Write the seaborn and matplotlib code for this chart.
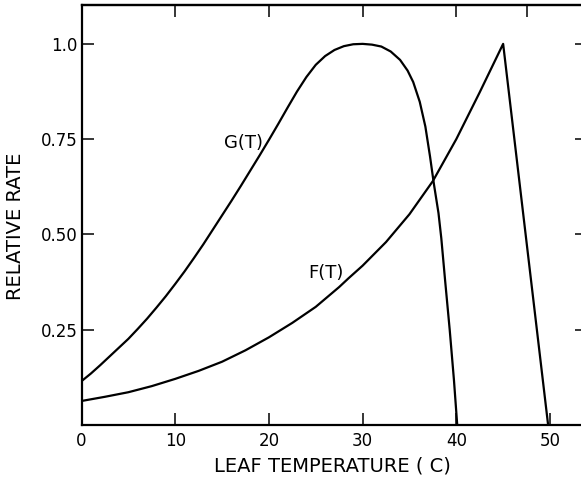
import pandas as pd
import matplotlib
matplotlib.use("Agg")
import matplotlib.pyplot as plt
import seaborn as sns

# =========================
# Data
# =========================

g_temp = [0, 1, 2, 3, 4, 5, 6, 7, 8, 9, 10, 11, 12, 13, 14, 15, 16, 17, 18,
          19, 20, 21, 22, 23, 24, 25, 26, 27, 28, 29, 30, 31, 32, 33, 34,
          34.8, 35.4, 36.1, 36.7, 37.2, 37.6, 38.1, 38.4, 38.8, 39.3, 39.75,
          40.1]
g_rate = [0.115, 0.135, 0.157, 0.18, 0.203, 0.226, 0.252, 0.279, 0.308, 0.338,
          0.37, 0.403, 0.438, 0.474, 0.512, 0.55, 0.588, 0.627, 0.667, 0.707,
          0.748, 0.79, 0.833, 0.875, 0.913, 0.945, 0.968, 0.984, 0.994, 0.999,
          1.0, 0.998, 0.993, 0.98, 0.958, 0.93, 0.9, 0.848, 0.783, 0.704,
          0.634, 0.556, 0.49, 0.381, 0.249, 0.118, 0.0]

f_temp = [0, 2.5, 5, 7.5, 10, 12.5, 15, 17.5, 20, 22.5, 25, 27.5, 28.5, 30,
          32.5, 35, 37.5, 40, 42.5, 45, 49.8]
f_rate = [0.063, 0.074, 0.086, 0.102, 0.121, 0.142, 0.166, 0.196, 0.23, 0.268,
          0.31, 0.362, 0.385, 0.418, 0.48, 0.553, 0.64, 0.75, 0.873, 1.0, 0.0]

x_ticks = [0, 10, 20, 30, 40, 50]
y_ticks = [0.25, 0.50, 0.75, 1.0]
y_labels = ["0.25", "0.50", "0.75", "1.0"]
top_ticks = [10, 20, 30, 40, 47.5]

g_df = pd.DataFrame({"temp": g_temp, "rate": g_rate})
f_df = pd.DataFrame({"temp": f_temp, "rate": f_rate})

# =========================
# Style
# =========================

sns.set_style("ticks")
plt.rcParams["font.family"] = ["DejaVu Sans"]
plt.rcParams["font.size"] = 12
plt.rcParams["text.color"] = "black"
plt.rcParams["axes.labelcolor"] = "black"

fig = plt.figure(figsize=(5.81, 4.78), dpi=100)
ax = fig.add_axes([81.5 / 581, 53 / 478, 505.5 / 581, 420 / 478])

sns.lineplot(data=g_df, x="temp", y="rate", ax=ax, color="black",
             linewidth=1.6, sort=False, estimator=None)
sns.lineplot(data=f_df, x="temp", y="rate", ax=ax, color="black",
             linewidth=1.6, sort=False, estimator=None)

ax.set_xlim(0, 53.95)
ax.set_ylim(0, 1.102)

ax.set_xticks(x_ticks)
ax.set_yticks(y_ticks)
ax.set_yticklabels(y_labels)

ax.tick_params(direction="in", length=8.5, width=1.1, labelsize=12,
               right=True, pad=3, colors="black")
ax.tick_params(axis="x", pad=5)

top = ax.secondary_xaxis("top")
top.set_xticks(top_ticks)
top.tick_params(direction="in", length=8.5, width=1.1, labeltop=False,
                colors="black")
top.spines["top"].set_linewidth(1.6)

for s in ax.spines.values():
    s.set_linewidth(1.6)
    s.set_color("black")

ax.set_xlabel("LEAF TEMPERATURE ( C)", fontsize=14, va="center", color="black")
ax.set_ylabel("RELATIVE RATE", fontsize=14, va="center", color="black")
ax.xaxis.set_label_coords(0.496, -0.098)
ax.yaxis.set_label_coords(-0.13, 0.474)

ax.text(17.3, 0.74, "G(T)", fontsize=13, ha="center", va="center", color="black")
ax.text(26.1, 0.40, "F(T)", fontsize=13, ha="center", va="center", color="black")

plt.savefig("out.png", dpi=100)
